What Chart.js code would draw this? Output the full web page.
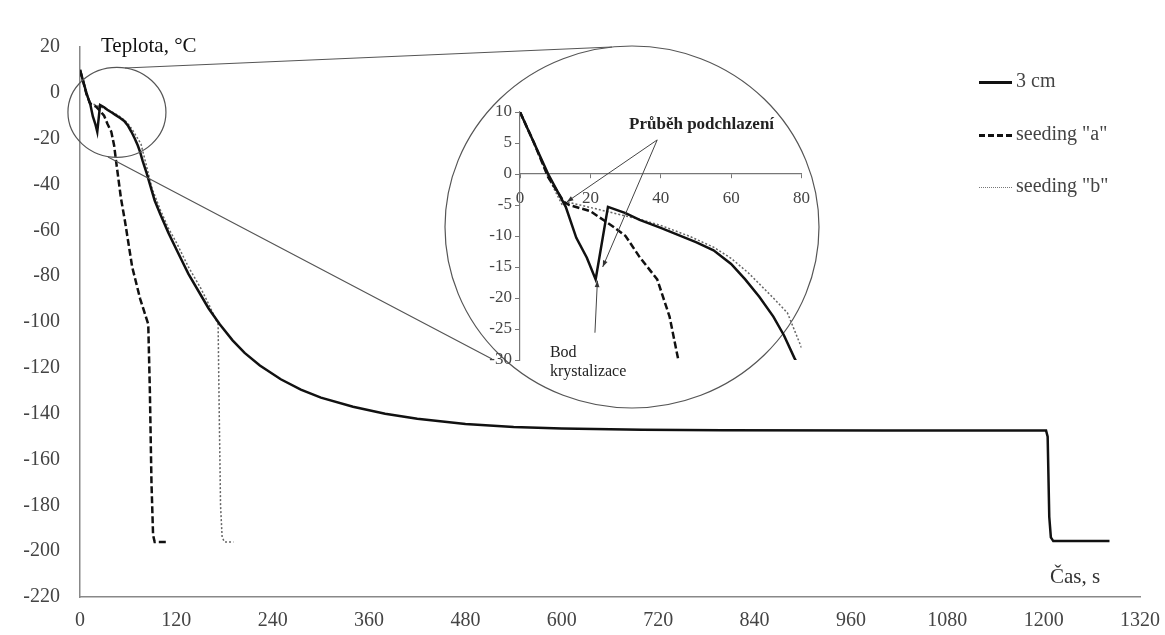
<!DOCTYPE html>
<html>
<head>
<meta charset="utf-8">
<script src="https://cdn.jsdelivr.net/npm/chart.js@4.4.1/dist/chart.umd.min.js"></script>
<style>
    html, body { margin: 0; padding: 0; background: #fff; }
    #wrap { position: relative; width: 1165px; height: 635px; overflow: hidden; }
    #mainChart { position: absolute; left: 0; top: 0; }
    #insetChart { position: absolute; left: 440px; top: 90px; }
    .leg { position: absolute; left: 979px; height: 22px; line-height: 22px;
           font: 20px "Liberation Serif", "Times New Roman", serif; color: #444; white-space: nowrap; }
    .leg span { display: inline-block; width: 33px; vertical-align: middle; margin-right: 4px; }
</style>
</head>
<body>
<div id="wrap">
    <canvas id="mainChart" width="1165" height="635"></canvas>
    <canvas id="insetChart" width="380" height="320"></canvas>
    <div class="leg" style="top:69px"><span style="border-top:3px solid #111"></span>3 cm</div>
    <div class="leg" style="top:122px"><span style="border-top:3px dashed #111"></span>seeding "a"</div>
    <div class="leg" style="top:174px"><span style="border-top:1.5px dotted #777"></span>seeding "b"</div>
</div>
<script>
// Freezing curves: temperature (°C) vs time (s)

const time3cm = [0, 4, 8, 13, 16, 19, 21.5, 25, 30, 34, 40, 43.5, 50, 55, 60, 64, 68, 72, 75, 78,
    83, 88, 93, 100, 110, 121, 135, 150, 160, 174, 190, 205, 224, 250, 275, 300, 340, 380, 420,
    480, 540, 600, 700, 800, 1000, 1203, 1205, 1207, 1209, 1212, 1282];
const temp3cm = [10, 5, 0, -5.3, -10.3, -13.5, -17, -5.3, -6.3, -7.4, -8.7, -9.5, -11, -12.3, -14.5, -17, -19.8, -23, -26, -29.7,
    -35, -41, -47, -53, -61, -69, -79, -88, -94, -101, -108, -113.5, -119, -125, -129.5, -133, -137, -140, -142.2,
    -144.5, -145.8, -146.5, -147, -147.2, -147.3, -147.3, -150, -185, -194, -195.6, -195.6];

const timeSeedA = [0, 4, 8, 12.5, 14, 20, 26.5, 30, 34, 39, 42.5, 45, 51, 56, 65, 75, 85, 87, 89, 91, 93, 108];
const tempSeedA = [10, 5, -0.5, -4.5, -5, -6, -8.5, -10, -13.4, -17, -23, -30, -46, -56, -76, -90, -101, -130, -170, -193, -196, -196];

const timeSeedB = [0, 4, 8, 12, 14, 20, 28, 34, 40, 48, 55, 60, 65, 72, 76, 80, 85, 90, 100, 110, 121, 135, 150, 160, 172,
    173, 175, 177, 180, 191];
const tempSeedB = [10, 5, -0.5, -5, -4.6, -5.4, -6.5, -7.3, -8.3, -10, -11.8, -13.6, -16, -20, -22.4, -28, -35, -42, -51, -59, -66, -76, -85, -92, -101,
    -130, -180, -194, -196, -196];

const xTicks = [0, 120, 240, 360, 480, 600, 720, 840, 960, 1080, 1200, 1320];
const yTicks = [20, 0, -20, -40, -60, -80, -100, -120, -140, -160, -180, -200, -220];
const insetXTicks = [0, 20, 40, 60, 80];
const insetYTicks = [10, 5, 0, -5, -10, -15, -20, -25, -30];

const serif = '"Liberation Serif", "Times New Roman", serif';

function pts(ts, vs) {
    return ts.map((t, i) => ({ x: t, y: vs[i] }));
}

function makeDatasets() {
    return [
        {
            label: '3 cm',
            data: pts(time3cm, temp3cm),
            borderColor: '#111',
            borderWidth: 2.5,
            pointRadius: 0,
            tension: 0
        },
        {
            label: 'seeding "a"',
            data: pts(timeSeedA, tempSeedA),
            borderColor: '#111',
            borderWidth: 2.5,
            borderDash: [7, 3],
            pointRadius: 0,
            tension: 0
        },
        {
            label: 'seeding "b"',
            data: pts(timeSeedB, tempSeedB),
            borderColor: '#666',
            borderWidth: 1.5,
            borderDash: [2, 2],
            pointRadius: 0,
            tension: 0
        }
    ];
}

function fixedTicks(list) {
    return function (axis) {
        axis.ticks = list.map(v => ({ value: v }));
    };
}

const plain = v => String(v);

// circles + connector lines + axis titles on the main chart
const zoomMarks = {
    id: 'zoomMarks',
    afterDraw(chart) {
        const { ctx } = chart;
        const x = chart.scales.x, y = chart.scales.y;
        ctx.save();
        ctx.strokeStyle = '#555';
        ctx.lineWidth = 1.2;

        // small circle around the first 80 s
        ctx.beginPath();
        ctx.ellipse(x.getPixelForValue(46), y.getPixelForValue(-8.5), 49, 45, 0, 0, Math.PI * 2);
        ctx.stroke();

        // big circle holding the zoomed view
        ctx.beginPath();
        ctx.ellipse(632, 227, 187, 181, 0, 0, Math.PI * 2);
        ctx.stroke();

        ctx.beginPath();
        ctx.moveTo(125, 68); ctx.lineTo(612, 47);
        ctx.moveTo(108, 157); ctx.lineTo(492, 359);
        ctx.stroke();

        ctx.fillStyle = '#111';
        ctx.font = '21px ' + serif;
        ctx.textBaseline = 'middle';
        ctx.fillText('Teplota, °C', 101, 46);
        ctx.fillStyle = '#333';
        ctx.fillText('Čas, s', 1050, 577);
        ctx.restore();
    }
};

new Chart(document.getElementById('mainChart'), {
    type: 'line',
    data: { datasets: makeDatasets() },
    options: {
        responsive: false,
        animation: false,
        layout: { padding: { left: 0, top: 47, right: 25, bottom: 0 }, autoPadding: false },
        plugins: { legend: { display: false }, tooltip: { enabled: false } },
        scales: {
            x: {
                type: 'linear',
                min: 0, max: 1320,
                afterBuildTicks: fixedTicks(xTicks),
                afterFit: s => { s.height = 38; },
                grid: { display: false },
                border: { display: true, color: '#888', width: 1.5 },
                ticks: { color: '#444', font: { family: serif, size: 20 }, padding: 4, maxRotation: 0, callback: plain }
            },
            y: {
                type: 'linear',
                min: -220, max: 20,
                afterBuildTicks: fixedTicks(yTicks),
                afterFit: s => { s.width = 80; },
                grid: { display: false },
                border: { display: true, color: '#888', width: 1.5 },
                ticks: { color: '#444', font: { family: serif, size: 20 }, padding: 12, callback: plain }
            }
        }
    },
    plugins: [zoomMarks]
});

// arrows and notes inside the zoomed view
function arrow(ctx, x1, y1, x2, y2) {
    ctx.beginPath();
    ctx.moveTo(x1, y1);
    ctx.lineTo(x2, y2);
    ctx.stroke();
    const a = Math.atan2(y2 - y1, x2 - x1);
    ctx.beginPath();
    ctx.moveTo(x2, y2);
    ctx.lineTo(x2 - 7 * Math.cos(a - 0.35), y2 - 7 * Math.sin(a - 0.35));
    ctx.lineTo(x2 - 7 * Math.cos(a + 0.35), y2 - 7 * Math.sin(a + 0.35));
    ctx.closePath();
    ctx.fill();
}

const insetNotes = {
    id: 'insetNotes',
    afterDraw(chart) {
        const { ctx } = chart;
        const x = chart.scales.x, y = chart.scales.y;
        const px = v => x.getPixelForValue(v), py = v => y.getPixelForValue(v);
        ctx.save();
        ctx.strokeStyle = '#444';
        ctx.fillStyle = '#333';
        ctx.lineWidth = 1;
        arrow(ctx, px(39), py(5.5), px(13.3), py(-4.5));
        arrow(ctx, px(39), py(5.5), px(23.5), py(-15));
        arrow(ctx, px(21.3), py(-25.6), px(22), py(-17.2));

        ctx.fillStyle = '#222';
        ctx.textBaseline = 'middle';
        ctx.font = 'bold 17px ' + serif;
        ctx.fillText('Průběh podchlazení', px(31), py(7.9));
        ctx.font = '16px ' + serif;
        ctx.fillText('Bod', px(8.5), py(-28.8));
        ctx.fillText('krystalizace', px(8.5), py(-31.9));
        ctx.restore();
    }
};

new Chart(document.getElementById('insetChart'), {
    type: 'line',
    data: { datasets: makeDatasets() },
    options: {
        responsive: false,
        animation: false,
        layout: { padding: { left: 0, top: 22, right: 18, bottom: 50 }, autoPadding: false },
        plugins: { legend: { display: false }, tooltip: { enabled: false } },
        scales: {
            x: {
                type: 'linear',
                position: { y: 0 },
                min: 0, max: 80,
                afterBuildTicks: fixedTicks(insetXTicks),
                grid: { drawOnChartArea: false, tickLength: 4, color: '#777' },
                border: { display: true, color: '#777', width: 1.2 },
                ticks: { color: '#444', font: { family: serif, size: 17 }, padding: 10, maxRotation: 0 }
            },
            y: {
                type: 'linear',
                min: -30, max: 10,
                afterBuildTicks: fixedTicks(insetYTicks),
                afterFit: s => { s.width = 80; },
                grid: { drawOnChartArea: false, tickLength: 5, color: '#777' },
                border: { display: true, color: '#777', width: 1.2 },
                ticks: { color: '#444', font: { family: serif, size: 17 }, padding: 3 }
            }
        }
    },
    plugins: [insetNotes]
});
</script>
</body>
</html>
